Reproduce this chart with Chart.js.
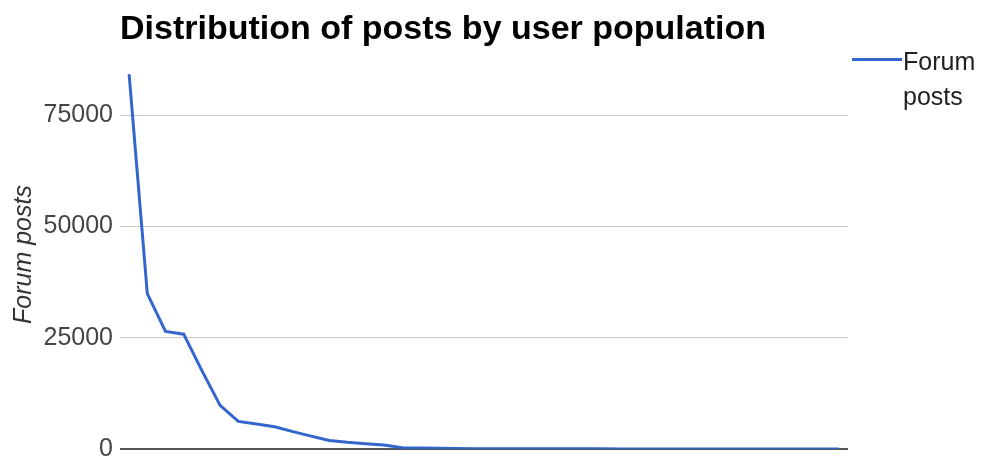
<!DOCTYPE html>
<html>
<head>
<meta charset="utf-8">
<script src="https://cdn.jsdelivr.net/npm/chart.js@4"></script>
<style>
  html, body { margin: 0; padding: 0; background: #fff; }
  #wrap { position: relative; width: 981px; height: 463px; }
  #title {
    position: absolute; left: 120px; top: 8px;
    font: bold 34px "Liberation Sans", Arial, sans-serif; color: #000;
    white-space: nowrap;
  }
  #legend {
    position: absolute; left: 852px; top: 44px;
    font: 25px "Liberation Sans", Arial, sans-serif; color: #222;
    line-height: 35px;
  }
  #legend .swatch {
    position: absolute; left: 0; top: 14px; width: 50px; height: 3px; background: #3366cc;
  }
  #legend .text { margin-left: 51px; }
  canvas { position: absolute; left: 0; top: 0; }
</style>
</head>
<body>
<div id="wrap">
  <canvas id="postsChart" width="981" height="463"></canvas>
  <div id="title">Distribution of posts by user population</div>
  <div id="legend"><span class="swatch"></span><div class="text">Forum<br>posts</div></div>
</div>
<script>
// ユーザー順位ごとの投稿数
const userRanks = Array.from({ length: 40 }, (_, i) => String(i + 1));
const forumPosts = [
    84200, 34900, 26400, 25800, 17600, 9800, 6200, 5600, 5000, 3900,
    2900, 1900, 1500, 1200, 900, 300, 200, 150, 100, 80,
    60, 50, 40, 40, 30, 30, 30, 20, 20, 20,
    20, 20, 10, 10, 10, 10, 10, 10, 10, 10
];
const yTicks = [0, 25000, 50000, 75000];

const ctx = document.getElementById('postsChart').getContext('2d');
new Chart(ctx, {
    type: 'line',
    data: {
        labels: userRanks,
        datasets: [{
            label: 'Forum posts',
            data: forumPosts,
            borderColor: '#3366cc',
            borderWidth: 3,
            pointRadius: 0,
            tension: 0,
            fill: false
        }]
    },
    options: {
        responsive: false,
        animation: false,
        layout: { padding: { top: 60, right: 133, bottom: 14, left: 0 } },
        scales: {
            x: {
                display: false,
                offset: true
            },
            y: {
                min: 0,
                max: 87400,
                afterBuildTicks: axis => { axis.ticks = yTicks.map(v => ({ value: v })); },
                afterFit: axis => {
                    axis.width = 120;
                    axis.paddingTop = 0;
                    axis.paddingBottom = 0;
                },
                border: { display: false },
                grid: {
                    drawTicks: false,
                    color: c => c.tick && c.tick.value === 0 ? '#555' : '#ccc',
                    lineWidth: c => c.tick && c.tick.value === 0 ? 2 : 1
                },
                ticks: {
                    padding: 7,
                    color: '#444',
                    font: { family: '"Liberation Sans", Arial, sans-serif', size: 25 },
                    callback: v => String(v)
                },
                title: {
                    display: true,
                    text: 'Forum posts',
                    color: '#333',
                    padding: { top: 9, bottom: 0 },
                    font: { family: '"Liberation Sans", Arial, sans-serif', size: 25, style: 'italic' }
                }
            }
        },
        plugins: {
            legend: { display: false },
            tooltip: { enabled: false }
        }
    }
});
</script>
</body>
</html>
